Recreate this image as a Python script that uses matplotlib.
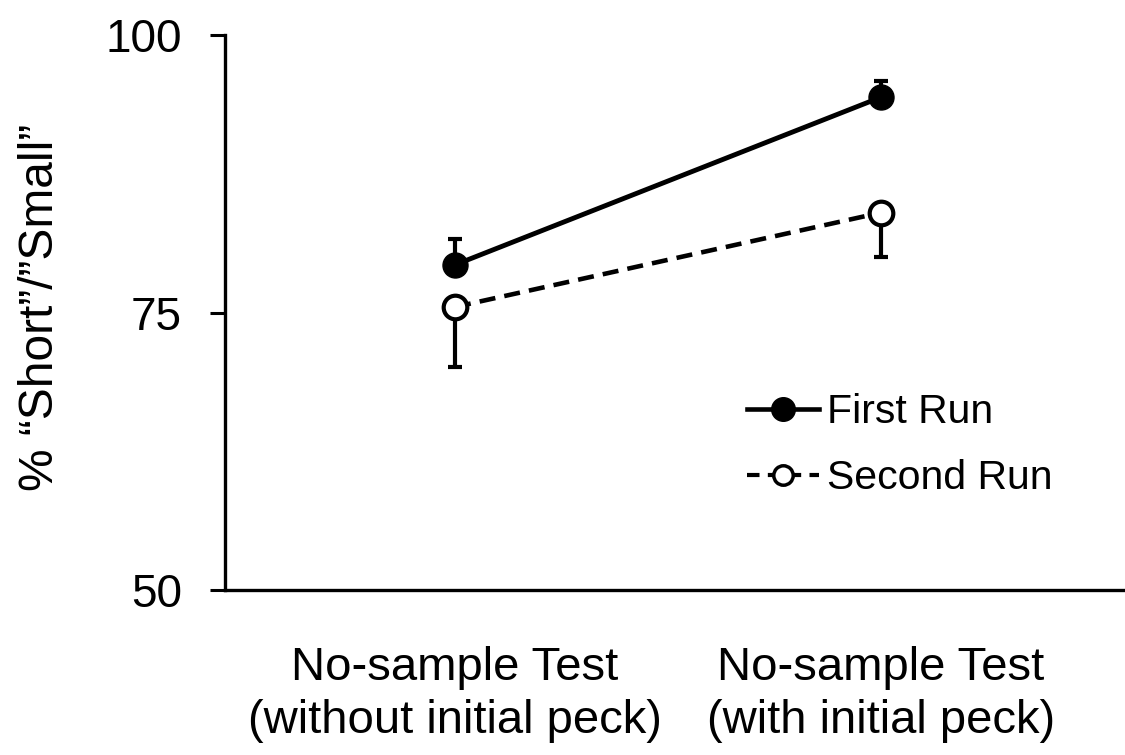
import matplotlib.pyplot as plt
from matplotlib.lines import Line2D

plt.rcParams['font.family'] = ['Liberation Sans', 'DejaVu Sans']

# data
conditions = ['No-sample Test\n(without initial peck)', 'No-sample Test\n(with initial peck)']
first_run = [79.3, 94.4]
first_err = [2.3, 1.5]      # upper bars only
second_run = [75.5, 84.0]
second_err = [5.4, 4.0]     # lower bars only

x = list(range(len(conditions)))

fig, ax = plt.subplots(figsize=(11.25, 7.55), dpi=100)
fig.subplots_adjust(left=0.2, right=0.999, bottom=0.2185, top=0.9536)

# first run: solid line, filled circles, upward error bars
ax.errorbar(x, first_run, yerr=[[0, 0], first_err], color='black', lw=3.5,
            marker='o', ms=18, mfc='black', mec='black', capsize=5, capthick=3,
            elinewidth=3, zorder=3)

# second run: dashed line, open circles, downward error bars
ax.errorbar(x, second_run, yerr=[second_err, [0, 0]], color='black', lw=3.3,
            ls=(0, (3.5, 2)), marker='o', ms=17, mfc='white', mec='black', mew=3,
            capsize=5, capthick=3, elinewidth=3, zorder=3)

ax.set_xlim(-0.54, 1.57)
ax.set_ylim(50, 100)
ax.set_yticks([50, 75, 100])
ax.set_xticks(x)
ax.set_xticklabels(conditions, fontsize=34, linespacing=1.28)
ax.tick_params(axis='y', labelsize=33, length=11, width=2.2, direction='out', pad=20)
ax.tick_params(axis='x', length=0, pad=40)
ax.set_ylabel('% \u201cShort\u201d/\u201dSmall\u201d', fontsize=34.5)
ax.yaxis.set_label_coords(-0.18, 0.51)

for side in ['top', 'right']:
    ax.spines[side].set_visible(False)
for side in ['left', 'bottom']:
    ax.spines[side].set_linewidth(2.4)

handles = [
    Line2D([], [], color='black', lw=3.3, marker='o', ms=17, mfc='black'),
    Line2D([], [], color='black', lw=3, ls=(0, (3, 2)), marker='o', ms=14,
           mfc='white', mew=2.5),
]
ax.legend(handles, ['First Run', 'Second Run'], loc='center left',
          bbox_to_anchor=(0.558, 0.261), frameon=False, fontsize=29.5,
          handlelength=1.75, handletextpad=0.2, labelspacing=0.68, borderpad=0)

fig.savefig('out.png', dpi=100)
